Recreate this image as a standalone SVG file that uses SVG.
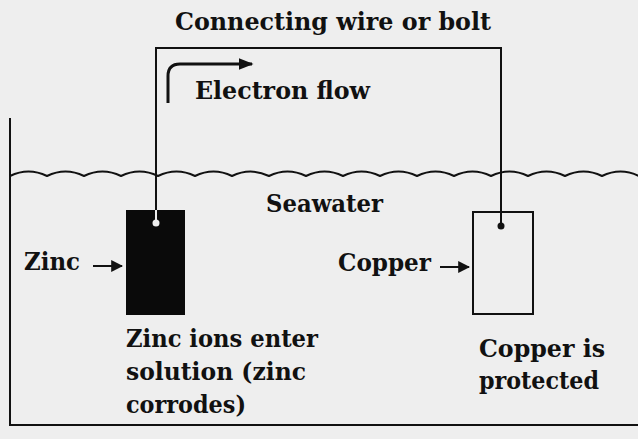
<svg xmlns="http://www.w3.org/2000/svg" width="638" height="439" viewBox="0 0 638 439">
<defs>
<style>
.t{font-family:"DejaVu Serif","Liberation Serif","Noto Serif","Times New Roman",serif;font-weight:bold;font-size:24px;fill:#111}
.ln{stroke:#111;stroke-width:2;fill:none}
</style>
<marker id="ah" viewBox="0 0 10 8" refX="9" refY="4" markerWidth="5" markerHeight="4" orient="auto" markerUnits="strokeWidth"><path d="M0,0 L10,4 L0,8 z" fill="#111"/></marker>
<marker id="ah2" viewBox="0 0 10 10" refX="9" refY="5" markerWidth="6" markerHeight="6" orient="auto" markerUnits="strokeWidth"><path d="M0,0 L10,5 L0,10 z" fill="#111"/></marker>
</defs>
<rect width="638" height="439" fill="#eeeeee"/>
<g id="tank">
<path class="ln" d="M10,118 L10,425 L638,425"/>
<path class="ln" d="M10,176 q18.5,-9 37,0 q18.5,-9 37,0 q18.5,-9 37,0 q18.5,-9 37,0 q18.5,-9 37,0 q18.5,-9 37,0 q18.5,-9 37,0 q18.5,-9 37,0 q18.5,-9 37,0 q18.5,-9 37,0 q18.5,-9 37,0 q18.5,-9 37,0 q18.5,-9 37,0 q18.5,-9 37,0 q18.5,-9 37,0 q18.5,-9 37,0 q18.5,-9 37,0"/>
<text class="t" x="266" y="212" textLength="117" lengthAdjust="spacingAndGlyphs">Seawater</text>
</g>
<g id="connectors">
<path class="ln" d="M156,211 L156,48 L501,48 L501,212"/>
<path d="M168,103 L168,76 Q168,64 180,64 L252,64" stroke="#111" stroke-width="3" fill="none" marker-end="url(#ah)"/>
<line x1="93" y1="266" x2="122" y2="266" stroke="#111" stroke-width="2" marker-end="url(#ah2)"/>
<line x1="440" y1="267" x2="469" y2="267" stroke="#111" stroke-width="2" marker-end="url(#ah2)"/>
</g>
<g id="wire-label">
<text class="t" x="175" y="30" textLength="316" lengthAdjust="spacingAndGlyphs">Connecting wire or bolt</text>
<text class="t" x="195" y="99" textLength="175" lengthAdjust="spacingAndGlyphs">Electron flow</text>
</g>
<g id="zinc">
<rect x="126" y="210" width="59" height="105" fill="#0a0a0a"/>
<line x1="156" y1="210" x2="156" y2="222" stroke="#eee" stroke-width="2"/>
<circle cx="156" cy="223" r="3.5" fill="#eee"/>
<text class="t" x="24" y="270" textLength="56" lengthAdjust="spacingAndGlyphs">Zinc</text>
<text class="t" x="126" y="347" textLength="192" lengthAdjust="spacingAndGlyphs">Zinc ions enter</text>
<text class="t" x="126" y="380" textLength="180" lengthAdjust="spacingAndGlyphs">solution (zinc</text>
<text class="t" x="126" y="413" textLength="120" lengthAdjust="spacingAndGlyphs">corrodes)</text>
</g>
<g id="copper">
<rect x="473" y="212" width="60" height="102" class="ln"/>
<line x1="501" y1="212" x2="501" y2="226" class="ln"/>
<circle cx="501" cy="226" r="3.5" fill="#111"/>
<text class="t" x="338" y="271" textLength="93" lengthAdjust="spacingAndGlyphs">Copper</text>
<text class="t" x="479" y="357" textLength="126" lengthAdjust="spacingAndGlyphs">Copper is</text>
<text class="t" x="479" y="389" textLength="120" lengthAdjust="spacingAndGlyphs">protected</text>
</g>
</svg>
